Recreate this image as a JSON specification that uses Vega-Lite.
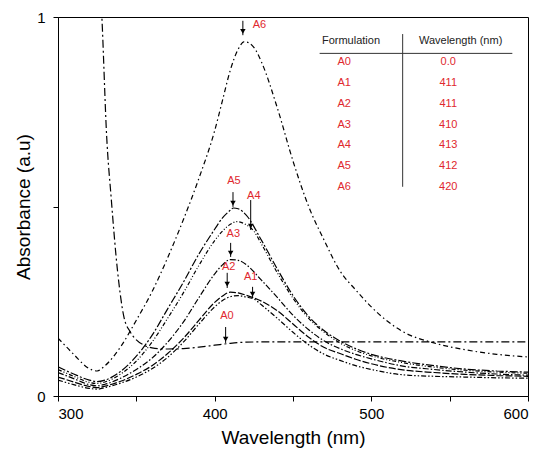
{
  "$schema": "https://vega.github.io/schema/vega-lite/v6.json",
  "width": 470,
  "height": 379,
  "autosize": "none",
  "padding": {"left": 58, "top": 17, "right": 22, "bottom": 67},
  "config": {
    "font": "Liberation Sans",
    "view": {"stroke": "black", "strokeWidth": 1},
    "axis": {
      "grid": false,
      "domainColor": "black",
      "tickColor": "black",
      "tickSize": 5,
      "labelColor": "black",
      "labelFontSize": 15,
      "titleColor": "black",
      "titleFontSize": 19,
      "titleFontWeight": "normal"
    }
  },
  "datasets": {
    "curves": [
      {"s": "A0", "w": 300, "a": 2.2}, {"s": "A0", "w": 315, "a": 1.7}, {"s": "A0", "w": 325, "a": 1.2},
      {"s": "A0", "w": 328, "a": 1.0}, {"s": "A0", "w": 331, "a": 0.69}, {"s": "A0", "w": 334, "a": 0.52},
      {"s": "A0", "w": 338, "a": 0.33}, {"s": "A0", "w": 342, "a": 0.21}, {"s": "A0", "w": 346, "a": 0.17},
      {"s": "A0", "w": 350, "a": 0.148}, {"s": "A0", "w": 355, "a": 0.134}, {"s": "A0", "w": 360, "a": 0.127},
      {"s": "A0", "w": 370, "a": 0.124}, {"s": "A0", "w": 380, "a": 0.125}, {"s": "A0", "w": 390, "a": 0.129},
      {"s": "A0", "w": 400, "a": 0.134}, {"s": "A0", "w": 410, "a": 0.139}, {"s": "A0", "w": 420, "a": 0.142},
      {"s": "A0", "w": 440, "a": 0.143}, {"s": "A0", "w": 480, "a": 0.143}, {"s": "A0", "w": 520, "a": 0.143},
      {"s": "A0", "w": 560, "a": 0.143}, {"s": "A0", "w": 600, "a": 0.143},

      {"s": "A6", "w": 300, "a": 0.153}, {"s": "A6", "w": 310, "a": 0.11}, {"s": "A6", "w": 320, "a": 0.072},
      {"s": "A6", "w": 325, "a": 0.066}, {"s": "A6", "w": 330, "a": 0.08}, {"s": "A6", "w": 340, "a": 0.13},
      {"s": "A6", "w": 350, "a": 0.2}, {"s": "A6", "w": 360, "a": 0.275}, {"s": "A6", "w": 370, "a": 0.365},
      {"s": "A6", "w": 380, "a": 0.465}, {"s": "A6", "w": 390, "a": 0.575}, {"s": "A6", "w": 400, "a": 0.7},
      {"s": "A6", "w": 405, "a": 0.78}, {"s": "A6", "w": 410, "a": 0.86}, {"s": "A6", "w": 415, "a": 0.915},
      {"s": "A6", "w": 419, "a": 0.935}, {"s": "A6", "w": 425, "a": 0.92}, {"s": "A6", "w": 430, "a": 0.88},
      {"s": "A6", "w": 440, "a": 0.76}, {"s": "A6", "w": 450, "a": 0.62}, {"s": "A6", "w": 460, "a": 0.5},
      {"s": "A6", "w": 470, "a": 0.41}, {"s": "A6", "w": 480, "a": 0.33}, {"s": "A6", "w": 490, "a": 0.28},
      {"s": "A6", "w": 500, "a": 0.235}, {"s": "A6", "w": 520, "a": 0.17}, {"s": "A6", "w": 540, "a": 0.14},
      {"s": "A6", "w": 560, "a": 0.122}, {"s": "A6", "w": 580, "a": 0.11}, {"s": "A6", "w": 600, "a": 0.103},

      {"s": "A5", "w": 300, "a": 0.077}, {"s": "A5", "w": 310, "a": 0.058}, {"s": "A5", "w": 320, "a": 0.042},
      {"s": "A5", "w": 325, "a": 0.038}, {"s": "A5", "w": 330, "a": 0.042}, {"s": "A5", "w": 340, "a": 0.065},
      {"s": "A5", "w": 350, "a": 0.105}, {"s": "A5", "w": 360, "a": 0.16}, {"s": "A5", "w": 370, "a": 0.23},
      {"s": "A5", "w": 380, "a": 0.3}, {"s": "A5", "w": 390, "a": 0.375}, {"s": "A5", "w": 400, "a": 0.44},
      {"s": "A5", "w": 405, "a": 0.47}, {"s": "A5", "w": 410, "a": 0.49}, {"s": "A5", "w": 412, "a": 0.496},
      {"s": "A5", "w": 415, "a": 0.494}, {"s": "A5", "w": 420, "a": 0.478}, {"s": "A5", "w": 430, "a": 0.41},
      {"s": "A5", "w": 440, "a": 0.335}, {"s": "A5", "w": 450, "a": 0.265}, {"s": "A5", "w": 460, "a": 0.21},
      {"s": "A5", "w": 470, "a": 0.172}, {"s": "A5", "w": 480, "a": 0.145}, {"s": "A5", "w": 490, "a": 0.125},
      {"s": "A5", "w": 500, "a": 0.11}, {"s": "A5", "w": 520, "a": 0.092}, {"s": "A5", "w": 540, "a": 0.08},
      {"s": "A5", "w": 560, "a": 0.071}, {"s": "A5", "w": 580, "a": 0.066}, {"s": "A5", "w": 600, "a": 0.063},

      {"s": "A4", "w": 300, "a": 0.07}, {"s": "A4", "w": 310, "a": 0.052}, {"s": "A4", "w": 320, "a": 0.036},
      {"s": "A4", "w": 325, "a": 0.033}, {"s": "A4", "w": 330, "a": 0.037}, {"s": "A4", "w": 340, "a": 0.058},
      {"s": "A4", "w": 350, "a": 0.092}, {"s": "A4", "w": 360, "a": 0.142}, {"s": "A4", "w": 370, "a": 0.205},
      {"s": "A4", "w": 380, "a": 0.272}, {"s": "A4", "w": 390, "a": 0.345}, {"s": "A4", "w": 400, "a": 0.41},
      {"s": "A4", "w": 405, "a": 0.435}, {"s": "A4", "w": 410, "a": 0.453}, {"s": "A4", "w": 414, "a": 0.46},
      {"s": "A4", "w": 420, "a": 0.452}, {"s": "A4", "w": 425, "a": 0.435}, {"s": "A4", "w": 430, "a": 0.4},
      {"s": "A4", "w": 440, "a": 0.325}, {"s": "A4", "w": 450, "a": 0.258}, {"s": "A4", "w": 460, "a": 0.205},
      {"s": "A4", "w": 470, "a": 0.168}, {"s": "A4", "w": 480, "a": 0.14}, {"s": "A4", "w": 490, "a": 0.12},
      {"s": "A4", "w": 500, "a": 0.106}, {"s": "A4", "w": 520, "a": 0.088}, {"s": "A4", "w": 540, "a": 0.076},
      {"s": "A4", "w": 560, "a": 0.068}, {"s": "A4", "w": 580, "a": 0.063}, {"s": "A4", "w": 600, "a": 0.06},

      {"s": "A3", "w": 300, "a": 0.062}, {"s": "A3", "w": 310, "a": 0.046}, {"s": "A3", "w": 320, "a": 0.03},
      {"s": "A3", "w": 325, "a": 0.027}, {"s": "A3", "w": 330, "a": 0.031}, {"s": "A3", "w": 340, "a": 0.047},
      {"s": "A3", "w": 350, "a": 0.07}, {"s": "A3", "w": 360, "a": 0.1}, {"s": "A3", "w": 370, "a": 0.142},
      {"s": "A3", "w": 380, "a": 0.195}, {"s": "A3", "w": 390, "a": 0.26}, {"s": "A3", "w": 400, "a": 0.322},
      {"s": "A3", "w": 405, "a": 0.346}, {"s": "A3", "w": 410, "a": 0.36}, {"s": "A3", "w": 415, "a": 0.358},
      {"s": "A3", "w": 420, "a": 0.347}, {"s": "A3", "w": 430, "a": 0.305}, {"s": "A3", "w": 440, "a": 0.26},
      {"s": "A3", "w": 450, "a": 0.213}, {"s": "A3", "w": 460, "a": 0.175}, {"s": "A3", "w": 470, "a": 0.145},
      {"s": "A3", "w": 480, "a": 0.125}, {"s": "A3", "w": 490, "a": 0.11}, {"s": "A3", "w": 500, "a": 0.098},
      {"s": "A3", "w": 520, "a": 0.079}, {"s": "A3", "w": 540, "a": 0.07}, {"s": "A3", "w": 560, "a": 0.063},
      {"s": "A3", "w": 580, "a": 0.058}, {"s": "A3", "w": 600, "a": 0.055},

      {"s": "A2", "w": 300, "a": 0.05}, {"s": "A2", "w": 310, "a": 0.037}, {"s": "A2", "w": 320, "a": 0.025},
      {"s": "A2", "w": 325, "a": 0.022}, {"s": "A2", "w": 330, "a": 0.026}, {"s": "A2", "w": 340, "a": 0.039},
      {"s": "A2", "w": 350, "a": 0.057}, {"s": "A2", "w": 360, "a": 0.08}, {"s": "A2", "w": 370, "a": 0.112},
      {"s": "A2", "w": 380, "a": 0.152}, {"s": "A2", "w": 390, "a": 0.2}, {"s": "A2", "w": 400, "a": 0.247},
      {"s": "A2", "w": 405, "a": 0.264}, {"s": "A2", "w": 410, "a": 0.274}, {"s": "A2", "w": 415, "a": 0.272},
      {"s": "A2", "w": 420, "a": 0.266}, {"s": "A2", "w": 430, "a": 0.25}, {"s": "A2", "w": 440, "a": 0.225},
      {"s": "A2", "w": 450, "a": 0.19}, {"s": "A2", "w": 460, "a": 0.155}, {"s": "A2", "w": 470, "a": 0.128},
      {"s": "A2", "w": 480, "a": 0.112}, {"s": "A2", "w": 490, "a": 0.097}, {"s": "A2", "w": 500, "a": 0.085},
      {"s": "A2", "w": 520, "a": 0.069}, {"s": "A2", "w": 540, "a": 0.062}, {"s": "A2", "w": 560, "a": 0.057},
      {"s": "A2", "w": 580, "a": 0.054}, {"s": "A2", "w": 600, "a": 0.052},

      {"s": "A1", "w": 300, "a": 0.042}, {"s": "A1", "w": 310, "a": 0.03}, {"s": "A1", "w": 320, "a": 0.02},
      {"s": "A1", "w": 325, "a": 0.018}, {"s": "A1", "w": 330, "a": 0.022}, {"s": "A1", "w": 340, "a": 0.034},
      {"s": "A1", "w": 350, "a": 0.05}, {"s": "A1", "w": 360, "a": 0.072}, {"s": "A1", "w": 370, "a": 0.102},
      {"s": "A1", "w": 380, "a": 0.142}, {"s": "A1", "w": 390, "a": 0.19}, {"s": "A1", "w": 400, "a": 0.235},
      {"s": "A1", "w": 405, "a": 0.252}, {"s": "A1", "w": 410, "a": 0.262}, {"s": "A1", "w": 415, "a": 0.265},
      {"s": "A1", "w": 420, "a": 0.261}, {"s": "A1", "w": 425, "a": 0.256}, {"s": "A1", "w": 430, "a": 0.24},
      {"s": "A1", "w": 440, "a": 0.205}, {"s": "A1", "w": 450, "a": 0.168}, {"s": "A1", "w": 460, "a": 0.135},
      {"s": "A1", "w": 470, "a": 0.11}, {"s": "A1", "w": 480, "a": 0.094}, {"s": "A1", "w": 490, "a": 0.08},
      {"s": "A1", "w": 500, "a": 0.07}, {"s": "A1", "w": 520, "a": 0.056}, {"s": "A1", "w": 540, "a": 0.052},
      {"s": "A1", "w": 560, "a": 0.05}, {"s": "A1", "w": 580, "a": 0.048}, {"s": "A1", "w": 600, "a": 0.047}
    ],
    "arrows": [
      {"s": "A6", "w": 418, "a": 0.99, "a2": 0.952, "h": 0.962, "lw": 428.6, "la": 0.979},
      {"s": "A5", "w": 411.7, "a": 0.538, "a2": 0.499, "h": 0.509, "lw": 412.3, "la": 0.567},
      {"s": "A4", "w": 423, "a": 0.517, "a2": 0.438, "h": 0.448, "lw": 425, "la": 0.528},
      {"s": "A3", "w": 410.2, "a": 0.404, "a2": 0.367, "h": 0.377, "lw": 411.9, "la": 0.427},
      {"s": "A2", "w": 408, "a": 0.325, "a2": 0.285, "h": 0.295, "lw": 409, "la": 0.34},
      {"s": "A1", "w": 424.2, "a": 0.288, "a2": 0.259, "h": 0.269, "lw": 423, "la": 0.314},
      {"s": "A0", "w": 407, "a": 0.182, "a2": 0.14, "h": 0.15, "lw": 407.8, "la": 0.211}
    ],
    "cells": [
      {"t": "A0", "w": 482.7, "a": 0.88}, {"t": "0.0", "w": 549.1, "a": 0.88},
      {"t": "A1", "w": 482.7, "a": 0.826}, {"t": "411", "w": 549.1, "a": 0.826},
      {"t": "A2", "w": 482.7, "a": 0.771}, {"t": "411", "w": 549.1, "a": 0.771},
      {"t": "A3", "w": 482.7, "a": 0.716}, {"t": "410", "w": 549.1, "a": 0.716},
      {"t": "A4", "w": 482.7, "a": 0.661}, {"t": "413", "w": 549.1, "a": 0.661},
      {"t": "A5", "w": 482.7, "a": 0.607}, {"t": "412", "w": 549.1, "a": 0.607},
      {"t": "A6", "w": 482.7, "a": 0.552}, {"t": "420", "w": 549.1, "a": 0.552}
    ],
    "header": [
      {"t": "Formulation", "w": 487, "a": 0.937},
      {"t": "Wavelength (nm)", "w": 557, "a": 0.937}
    ],
    "tablelines": [
      {"w": 467, "w2": 590, "a": 0.904, "a2": 0.904},
      {"w": 520, "w2": 520, "a": 0.955, "a2": 0.552}
    ]
  },
  "encoding": {
    "x": {
      "field": "w",
      "type": "quantitative",
      "title": "Wavelength (nm)",
      "scale": {"domain": [300, 600], "nice": false, "zero": false},
      "axis": {
        "values": [300, 350, 400, 450, 500, 550, 600],
        "labelExpr": "datum.value % 100 === 0 ? datum.label : ''",
        "labelPadding": 5,
        "titlePadding": 7
      }
    },
    "y": {
      "field": "a",
      "type": "quantitative",
      "title": "Absorbance (a.u)",
      "scale": {"domain": [0, 1], "nice": false},
      "axis": {
        "values": [0, 0.5, 1],
        "format": "~g",
        "labelExpr": "datum.value === 0.5 ? '' : datum.label",
        "labelPadding": 8,
        "titlePadding": 3
      }
    }
  },
  "layer": [
    {
      "data": {"name": "curves"},
      "mark": {"type": "line", "clip": true, "strokeWidth": 1.2, "color": "black", "interpolate": "monotone"},
      "encoding": {
        "detail": {"field": "s"},
        "strokeDash": {
          "field": "s",
          "type": "nominal",
          "legend": null,
          "scale": {
            "domain": ["A0", "A1", "A2", "A3", "A4", "A5", "A6"],
            "range": [[8, 3, 2, 3], [5, 2, 1.5, 2, 1.5, 2], [7, 2], [6, 2, 1.5, 2], [4, 2, 1, 2, 1, 2], [8, 2, 2, 2], [5, 3, 1.5, 3]]
          }
        }
      }
    },
    {
      "data": {"name": "arrows"},
      "mark": {"type": "rule", "color": "black", "strokeWidth": 1},
      "encoding": {
        "y2": {"field": "a2"}
      }
    },
    {
      "data": {"name": "arrows"},
      "mark": {"type": "point", "shape": "triangle-down", "filled": true, "color": "black", "size": 30, "opacity": 1},
      "encoding": {
        "y": {"field": "h", "type": "quantitative", "title": "Absorbance (a.u)"}
      }
    },
    {
      "data": {"name": "arrows"},
      "mark": {"type": "text", "color": "#e0282e", "fontSize": 11, "baseline": "middle", "align": "center"},
      "encoding": {
        "x": {"field": "lw", "type": "quantitative", "title": "Wavelength (nm)"},
        "y": {"field": "la", "type": "quantitative", "title": "Absorbance (a.u)"},
        "text": {"field": "s"}
      }
    },
    {
      "data": {"name": "header"},
      "mark": {"type": "text", "color": "#222222", "fontSize": 11, "baseline": "middle", "align": "center"},
      "encoding": {
        "text": {"field": "t"}
      }
    },
    {
      "data": {"name": "tablelines"},
      "mark": {"type": "rule", "color": "#333333", "strokeWidth": 1},
      "encoding": {
        "x2": {"field": "w2"},
        "y2": {"field": "a2"}
      }
    },
    {
      "data": {"name": "cells"},
      "mark": {"type": "text", "color": "#e0282e", "fontSize": 11, "baseline": "middle", "align": "center"},
      "encoding": {
        "text": {"field": "t"}
      }
    }
  ]
}
